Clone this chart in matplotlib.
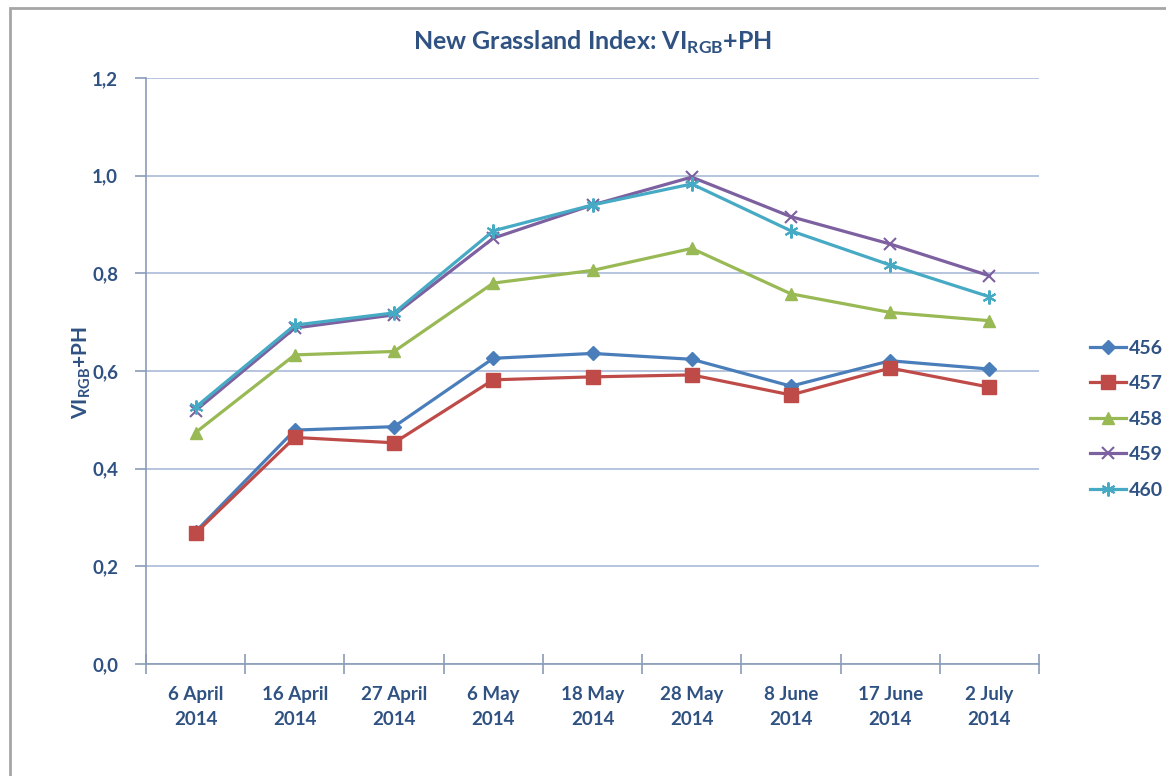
import matplotlib.pyplot as plt
import matplotlib.patches as mpatches
import numpy as np

# dates of the surveys
dates = ['6 April\n2014', '16 April\n2014', '27 April\n2014', '6 May\n2014', '18 May\n2014',
         '28 May\n2014', '8 June\n2014', '17 June\n2014', '2 July\n2014']

# VI_RGB+PH per plot
s456 = [0.271, 0.479, 0.486, 0.626, 0.636, 0.624, 0.569, 0.621, 0.604]
s457 = [0.268, 0.464, 0.453, 0.582, 0.588, 0.592, 0.551, 0.606, 0.567]
s458 = [0.474, 0.633, 0.640, 0.780, 0.806, 0.851, 0.758, 0.720, 0.703]
s459 = [0.519, 0.688, 0.715, 0.872, 0.940, 0.997, 0.916, 0.860, 0.795]
s460 = [0.526, 0.694, 0.719, 0.887, 0.940, 0.983, 0.887, 0.817, 0.752]

labels = ['456', '457', '458', '459', '460']
yticks = [0.0, 0.2, 0.4, 0.6, 0.8, 1.0, 1.2]

txt = '#2F5283'
plt.rcParams['font.family'] = ['Lato', 'DejaVu Sans']
plt.rcParams['font.weight'] = 'bold'

fig = plt.figure(figsize=(11.66, 7.76), dpi=100)
ax = fig.add_axes([0.1252, 0.1443, 0.7659, 0.7552])

# outer chart border
fig.patches.append(mpatches.Rectangle((10 / 1166, -0.05), 1.1, (776 - 8) / 776 + 0.05,
                                      transform=fig.transFigure, fill=False,
                                      edgecolor='#A6A6A6', linewidth=2))

x = np.arange(len(dates))
ax.plot(x, s456, color='#4A7EBB', lw=2.3, marker='D', ms=7, label=labels[0])
ax.plot(x, s457, color='#BE4B48', lw=2.3, marker='s', ms=10, label=labels[1])
ax.plot(x, s458, color='#98B954', lw=2.3, marker='^', ms=9, label=labels[2])
ax.plot(x, s459, color='#7D60A0', lw=2.3, marker='x', ms=9, mew=1.5, label=labels[3])
ax.plot(x, s460, color='#46AAC5', lw=2.3, marker=(6, 2, 0), ms=10, mew=1.5, label=labels[4])

ax.set_xlim(-0.5, len(dates) - 0.5)
ax.set_ylim(0, 1.2)
ax.set_yticks(yticks)
ax.set_yticklabels([f'{v:.1f}'.replace('.', ',') for v in yticks])
ax.yaxis.grid(True, color='#A9BAD8', lw=1.2)
ax.set_axisbelow(True)

ax.set_xticks(np.arange(-0.5, len(dates), 1.0))
ax.set_xticklabels([])
ax.set_xticks(x, minor=True)
ax.set_xticklabels(dates, minor=True, linespacing=1.55)
ax.tick_params(axis='x', which='major', direction='inout', length=14, color='#8A9BB8', width=1.2)
ax.tick_params(axis='x', which='minor', length=0, pad=16, labelsize=13.5, labelcolor=txt)
ax.tick_params(axis='y', direction='out', length=8, color='#8A9BB8', width=1.2,
               labelsize=13.5, labelcolor=txt, pad=12)

for side in ['top', 'right']:
    ax.spines[side].set_visible(False)
for side in ['left', 'bottom']:
    ax.spines[side].set_color('#8A9BB8')
    ax.spines[side].set_linewidth(1.2)

# y label placed by hand, close to the tick labels like in the original
fig.text(93 / 1166, 1 - 373 / 776, r'VI$_{\mathregular{RGB}}$+PH', fontsize=15, color=txt,
         fontweight='bold', rotation=90, ha='right', va='center')
ax.set_title(r'New Grassland Index: VI$_{\mathregular{RGB}}$+PH', fontsize=18, color=txt,
             fontweight='bold', pad=20)

leg = ax.legend(loc='center left', bbox_to_anchor=(1.038, 0.418), frameon=False, fontsize=14,
                handlelength=1.85, labelspacing=0.95, handletextpad=0.15)
for t in leg.get_texts():
    t.set_color(txt)

fig.savefig('out.png', dpi=100)
